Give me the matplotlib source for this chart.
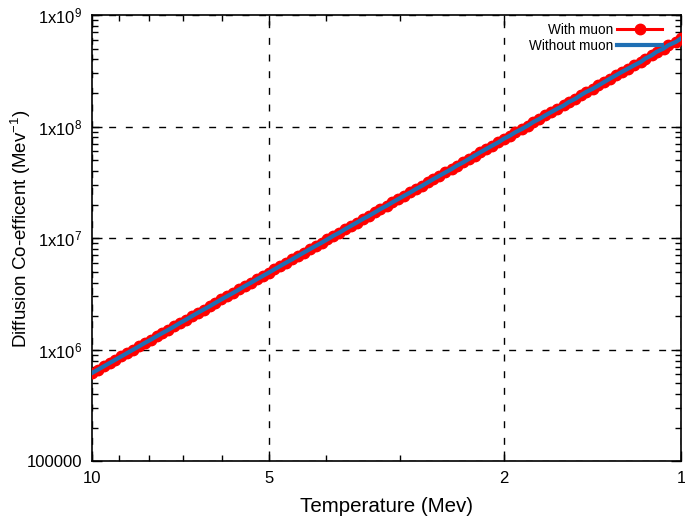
import matplotlib
matplotlib.use("Agg")
import matplotlib.pyplot as plt
from matplotlib.ticker import FixedLocator, NullFormatter

plt.rcParams['font.family'] = ['Liberation Sans', 'DejaVu Sans']
plt.rcParams['mathtext.fontset'] = 'custom'
plt.rcParams['mathtext.rm'] = 'Liberation Sans'
plt.rcParams['mathtext.it'] = 'Liberation Sans:italic'

# temperature (Mev)
temp = [10.0, 9.77, 9.55, 9.33, 9.12, 8.91, 8.71, 8.51, 8.32, 8.13,
        7.94, 7.76, 7.59, 7.41, 7.24, 7.08, 6.92, 6.76, 6.61, 6.46,
        6.31, 6.17, 6.03, 5.89, 5.75, 5.62, 5.50, 5.37, 5.25, 5.13,
        5.01, 4.90, 4.79, 4.68, 4.57, 4.47, 4.37, 4.27, 4.17, 4.07,
        3.98, 3.89, 3.80, 3.72, 3.63, 3.55, 3.47, 3.39, 3.31, 3.24,
        3.16, 3.09, 3.02, 2.95, 2.88, 2.82, 2.75, 2.69, 2.63, 2.57,
        2.51, 2.45, 2.40, 2.34, 2.29, 2.24, 2.19, 2.14, 2.09, 2.04,
        2.00, 1.95, 1.91, 1.86, 1.82, 1.78, 1.74, 1.70, 1.66, 1.62,
        1.58, 1.55, 1.51, 1.48, 1.45, 1.41, 1.38, 1.35, 1.32, 1.29,
        1.26, 1.23, 1.20, 1.17, 1.15, 1.12, 1.10, 1.07, 1.05, 1.02,
        1.00]

# diffusion coefficient with muon (Mev^-1)
d_with = [6.17e5, 6.61e5, 7.08e5, 7.59e5, 8.13e5, 8.71e5, 9.33e5, 1.00e6, 1.07e6, 1.15e6,
          1.23e6, 1.32e6, 1.41e6, 1.51e6, 1.62e6, 1.74e6, 1.86e6, 2.00e6, 2.14e6, 2.29e6,
          2.45e6, 2.63e6, 2.82e6, 3.02e6, 3.24e6, 3.47e6, 3.72e6, 3.98e6, 4.27e6, 4.57e6,
          4.90e6, 5.25e6, 5.62e6, 6.03e6, 6.46e6, 6.92e6, 7.41e6, 7.94e6, 8.51e6, 9.12e6,
          9.77e6, 1.05e7, 1.12e7, 1.20e7, 1.29e7, 1.38e7, 1.48e7, 1.58e7, 1.70e7, 1.82e7,
          1.95e7, 2.09e7, 2.24e7, 2.40e7, 2.57e7, 2.75e7, 2.95e7, 3.16e7, 3.39e7, 3.63e7,
          3.89e7, 4.17e7, 4.47e7, 4.79e7, 5.13e7, 5.50e7, 5.89e7, 6.31e7, 6.76e7, 7.24e7,
          7.76e7, 8.32e7, 8.91e7, 9.55e7, 1.02e8, 1.10e8, 1.17e8, 1.26e8, 1.35e8, 1.45e8,
          1.55e8, 1.66e8, 1.78e8, 1.91e8, 2.04e8, 2.19e8, 2.34e8, 2.51e8, 2.69e8, 2.88e8,
          3.09e8, 3.31e8, 3.55e8, 3.80e8, 4.07e8, 4.37e8, 4.68e8, 5.01e8, 5.37e8, 5.75e8,
          6.17e8]

# without muon the curve lies on top of the other one
d_without = list(d_with)

xticks = [10, 5, 2, 1]
xticklabels = ['10', '5', '2', '1']
yticks = [1e5, 1e6, 1e7, 1e8, 1e9]
yticklabels = ['100000', r'1x10$^{6}$', r'1x10$^{7}$', r'1x10$^{8}$', r'1x10$^{9}$']

fig = plt.figure(figsize=(6.85, 5.2), dpi=100)
ax = fig.add_axes([0.134, 0.113, 0.860, 0.858])

ax.plot(temp, d_with, color='#ff0000', lw=2.2, marker='o', ms=7.5,
        label='With muon', zorder=3)
ax.plot(temp, d_without, color='#1f6fb4', lw=3.0, label='Without muon', zorder=4)

ax.set_xscale('log')
ax.set_yscale('log')
ax.set_xlim(10, 1)
ax.set_ylim(1e5, 1e9)

ax.set_xticks(xticks)
ax.set_xticklabels(xticklabels)
ax.xaxis.set_minor_locator(FixedLocator([3, 4, 6, 7, 8, 9]))
ax.xaxis.set_minor_formatter(NullFormatter())
ax.set_yticks(yticks)
ax.set_yticklabels(yticklabels)
minor_y = [m * 10 ** e for e in range(5, 9) for m in range(2, 10)]
ax.yaxis.set_minor_locator(FixedLocator(minor_y))
ax.yaxis.set_minor_formatter(NullFormatter())

ax.tick_params(which='both', direction='in', top=True, right=True,
               labelsize=12, width=1, color='black')
ax.tick_params(which='major', length=7, pad=7)
ax.tick_params(which='minor', length=4)

ax.grid(True, which='major', color='black', linestyle=(0, (5, 7)), lw=1)
for s in ax.spines.values():
    s.set_linewidth(1.2)

ax.set_xlabel('Temperature (Mev)', fontsize=14.8, labelpad=8)
ax.set_ylabel(r'Diffusion Co-efficent (Mev$^{-1}$)', fontsize=13.5, labelpad=2)
ax.yaxis.set_label_coords(-0.1, 0.52)

ax.legend(loc='upper right', frameon=False, markerfirst=False, fontsize=9.8,
          handlelength=3.3, handletextpad=0.3, labelspacing=0.15,
          borderpad=0, borderaxespad=0,
          bbox_to_anchor=(662 / 685, 1 - 23 / 520), bbox_transform=fig.transFigure)

fig.savefig('out.png', dpi=100)
